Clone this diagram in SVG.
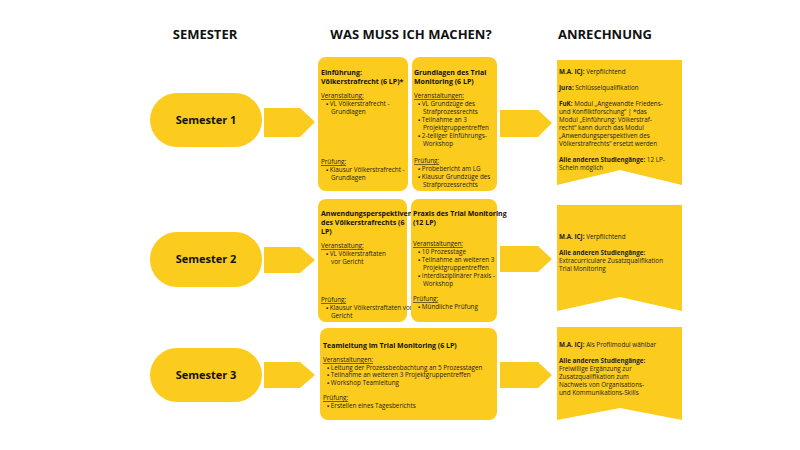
<svg xmlns="http://www.w3.org/2000/svg" width="800" height="450" viewBox="0 0 800 450">
<style>
.y{fill:#FBCB1D}
.h{font:bold 13px "Open Sans",sans-serif;fill:#111;text-anchor:middle}
.s{font:bold 11px "Open Sans",sans-serif;fill:#111;text-anchor:middle}
.t{font:6.3px "Open Sans",sans-serif;fill:#222}
.b{font-weight:bold}
.tt{font:bold 7px "Open Sans",sans-serif;fill:#111}
.u{text-decoration:underline}
</style>
<rect width="800" height="450" fill="#fff"/>
<text class="h" x="205" y="39">SEMESTER</text>
<text class="h" x="411" y="39">WAS MUSS ICH MACHEN?</text>
<text class="h" x="605" y="39">ANRECHNUNG</text>
<g id="connectors" class="y">
<polygon points="264,108 300,108 315,122 300,137 264,137"/>
<polygon points="264,247 300,247 315,260 300,273 264,273"/>
<polygon points="264,362 300,362 315,375 300,388 264,388"/>
<polygon points="500,110 538,110 552,123 538,137 500,137"/>
<polygon points="500,246 538,246 552,259 538,272 500,272"/>
<polygon points="500,362 538,362 552,375 538,388 500,388"/>
</g>
<g id="sem1"><rect class="y" x="150" y="93" width="112" height="54" rx="27"/><text class="s" x="206" y="124">Semester 1</text></g>
<g id="sem2"><rect class="y" x="150" y="232" width="112" height="55" rx="27"/><text class="s" x="206" y="263">Semester 2</text></g>
<g id="sem3"><rect class="y" x="150" y="348" width="112" height="54" rx="27"/><text class="s" x="206" y="379">Semester 3</text></g>
<g id="card1a"><rect class="y" x="318" y="57" width="90" height="134" rx="8"/>
<text class="tt" x="321" y="75">Einführung:</text><text class="tt" x="321" y="84">Völkerstrafrecht (6 LP)*</text>
<text class="t" x="321" y="98"><tspan class="u">Veranstaltung:</tspan><tspan x="326" dy="8">▪ VL Völkerstrafrecht -</tspan><tspan x="331" dy="8">Grundlagen</tspan></text>
<text class="t" x="321" y="164"><tspan class="u">Prüfung:</tspan><tspan x="326" dy="8">▪ Klausur Völkerstrafrecht -</tspan><tspan x="331" dy="8">Grundlagen</tspan></text></g>
<g id="card1b"><rect class="y" x="412" y="57" width="85" height="134" rx="8"/>
<text class="tt" x="414" y="75">Grundlagen des Trial</text><text class="tt" x="414" y="84">Monitoring (6 LP)</text>
<text class="t" x="414" y="98"><tspan class="u">Veranstaltungen:</tspan><tspan x="418" dy="8">▪ VL Grundzüge des</tspan><tspan x="423" dy="8">Strafprozessrechts</tspan><tspan x="418" dy="8">▪ Teilnahme an 3</tspan><tspan x="423" dy="8">Projektgruppentreffen</tspan><tspan x="418" dy="8">▪ 2-teiliger Einführungs-</tspan><tspan x="423" dy="8">Workshop</tspan></text>
<text class="t" x="414" y="163"><tspan class="u">Prüfung:</tspan><tspan x="418" dy="8">▪ Probebericht am LG</tspan><tspan x="418" dy="8">▪ Klausur Grundzüge des</tspan><tspan x="423" dy="8">Strafprozessrechts</tspan></text></g>
<g id="card2a"><rect class="y" x="318" y="199" width="89" height="123" rx="8"/>
<text class="tt" x="321" y="216">Anwendungsperspektiven</text><text class="tt" x="321" y="225">des Völkerstrafrechts (6</text><text class="tt" x="321" y="234">LP)</text>
<text class="t" x="321" y="248"><tspan class="u">Veranstaltung:</tspan><tspan x="326" dy="8">▪ VL Völkerstraftaten</tspan><tspan x="331" dy="8">vor Gericht</tspan></text>
<text class="t" x="321" y="302"><tspan class="u">Prüfung:</tspan><tspan x="326" dy="8">▪ Klausur Völkerstraftaten vor</tspan><tspan x="331" dy="8">Gericht</tspan></text></g>
<g id="card2b"><rect class="y" x="411" y="199" width="86" height="123" rx="8"/>
<text class="tt" x="413" y="216">Praxis des Trial Monitoring</text><text class="tt" x="413" y="225">(12 LP)</text>
<text class="t" x="413" y="246"><tspan class="u">Veranstaltungen:</tspan><tspan x="418" dy="8">▪ 10 Prozesstage</tspan><tspan x="418" dy="8">▪ Teilnahme an weiteren 3</tspan><tspan x="423" dy="8">Projektgruppentreffen</tspan><tspan x="418" dy="8">▪ Interdisziplinärer Praxis -</tspan><tspan x="423" dy="8">Workshop</tspan></text>
<text class="t" x="413" y="301"><tspan class="u">Prüfung:</tspan><tspan x="418" dy="8">▪ Mündliche Prüfung</tspan></text></g>
<g id="card3"><rect class="y" x="320" y="328" width="177" height="92" rx="8"/>
<text class="tt" x="323" y="348">Teamleitung im Trial Monitoring (6 LP)</text>
<text class="t" x="323" y="362"><tspan class="u">Veranstaltungen:</tspan><tspan x="327" dy="7.5">▪ Leitung der Prozessbeobachtung an 5 Prozesstagen</tspan><tspan x="327" dy="7.5">▪ Teilnahme an weiteren 3 Projektgruppentreffen</tspan><tspan x="327" dy="7.5">▪ Workshop Teamleitung</tspan></text>
<text class="t" x="323" y="400"><tspan class="u">Prüfung:</tspan><tspan x="327" dy="7.5">▪ Erstellen eines Tagesberichts</tspan></text></g>
<g id="banner1"><polygon class="y" points="557,60 682,60 682,185 620,170 557,185"/>
<text class="t" x="559" y="74"><tspan class="b">M.A. ICJ:</tspan> Verpflichtend<tspan x="559" dy="16"><tspan class="b">Jura:</tspan> Schlüsselqualifikation</tspan><tspan x="559" dy="16"><tspan class="b">FuK:</tspan> Modul „Angewandte Friedens-</tspan><tspan x="559" dy="8">und Konfliktforschung“ | *das</tspan><tspan x="559" dy="8">Modul „Einführung: Völkerstraf-</tspan><tspan x="559" dy="8">recht“ kann durch das Modul</tspan><tspan x="559" dy="8">„Anwendungsperspektiven des</tspan><tspan x="559" dy="8">Völkerstrafrechts“ ersetzt werden</tspan><tspan x="559" dy="16"><tspan class="b">Alle anderen Studiengänge:</tspan> 12 LP-</tspan><tspan x="559" dy="8">Schein möglich</tspan></text></g>
<g id="banner2"><polygon class="y" points="557,205 682,205 682,311 620,297 557,311"/>
<text class="t" x="559" y="239"><tspan class="b">M.A. ICJ:</tspan> Verpflichtend<tspan x="559" dy="16" class="b">Alle anderen Studiengänge:</tspan><tspan x="559" dy="8">Extracurriculare Zusatzqualifikation</tspan><tspan x="559" dy="8">Trial Monitoring</tspan></text></g>
<g id="banner3"><polygon class="y" points="557,327 682,327 682,420 620,408 557,420"/>
<text class="t" x="559" y="347"><tspan class="b">M.A. ICJ:</tspan> Als Profilmodul wählbar<tspan x="559" dy="16" class="b">Alle anderen Studiengänge:</tspan><tspan x="559" dy="8">Freiwillige Ergänzung zur</tspan><tspan x="559" dy="8">Zusatzqualifikation zum</tspan><tspan x="559" dy="8">Nachweis von Organisations-</tspan><tspan x="559" dy="8">und Kommunikations-Skills</tspan></text></g>
</svg>
